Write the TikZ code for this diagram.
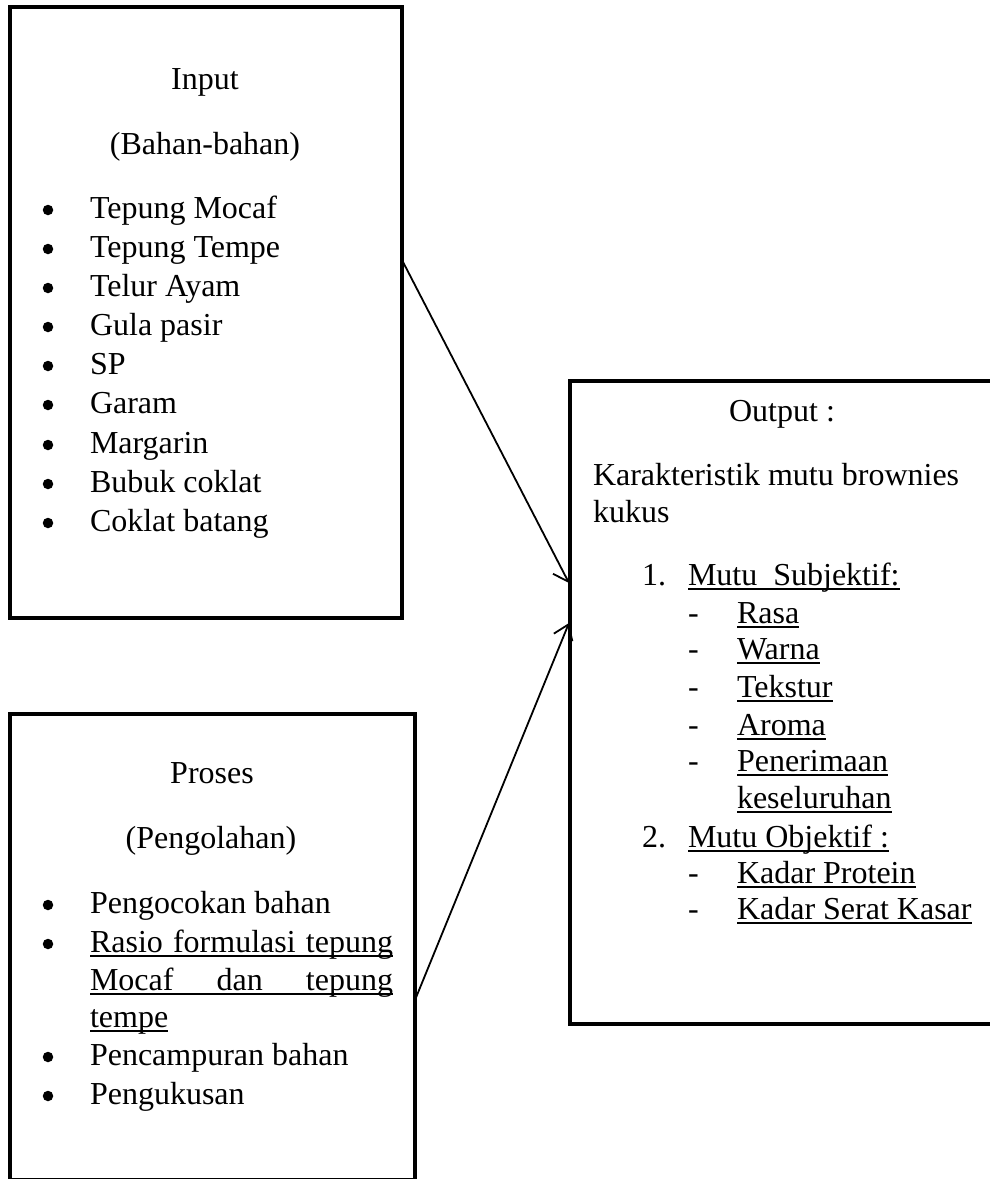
\documentclass[tikz,border=0pt]{standalone}
\usepackage{fontspec}
\setmainfont{Liberation Serif}
\usetikzlibrary{arrows.meta}
\newsavebox\ulbox
\newcommand\myul[1]{\sbox\ulbox{#1}\rlap{\rule[-5.3pt]{\wd\ulbox}{2pt}}\usebox\ulbox}
\begin{document}
\begin{tikzpicture}[x=1pt,y=-1pt,
  box/.style={draw,line width=4pt,inner sep=0pt,outer sep=0pt,rectangle},
  txt/.style={inner sep=0pt,outer sep=0pt,font=\fontsize{32}{39}\selectfont},
  lt/.style={txt,anchor=base west},
  ct/.style={txt,anchor=base},
  bul/.style={circle,fill,inner sep=0pt,minimum size=10.5pt},
  conn/.style={line width=1.8pt,-{Straight Barb[length=14pt,width=20pt,line width=1.8pt]}}
]
\useasboundingbox (0,0) rectangle (990,1179);
\clip (0,0) rectangle (990,1179);

% boxes
\node[box,minimum width=392pt,minimum height=611pt] (inp) at (206,312.5) {};
\node[box,minimum width=405pt,minimum height=466pt] (pro) at (212.5,947) {};
\node[box,minimum width=430pt,minimum height=643pt] (out) at (785,702.5) {};

% Input text
\node[ct] (t1) at (205,89) {Input};
\node[ct] (t2) at (205,154) {(Bahan-bahan)};
\foreach \y/\t [count=\i] in {218/Tepung Mocaf,257/Tepung Tempe,296/Telur Ayam,335/Gula pasir,374/SP,413/Garam,453/Margarin,492/Bubuk coklat,531/Coklat batang}{
  \node[bul] (ib\i) at (48,\y-8) {};
  \node[lt] (it\i) at (90,\y) {\t};
}

% Proses text
\node[ct] (p1) at (212,783) {Proses};
\node[ct] (p2) at (211,848) {(Pengolahan)};
\node[bul] (pb1) at (48,905) {};
\node[lt] (pt1) at (90,913) {Pengocokan bahan};
\node[bul] (pb2) at (48,944) {};
\node[lt] (pt2) at (90,952) {\myul{\makebox[303pt][s]{Rasio\hfill formulasi\hfill tepung}}};
\node[lt] (pt3) at (90,990) {\myul{\makebox[303pt][s]{Mocaf\hfill dan\hfill tepung}}};
\node[lt] (pt4) at (90,1027) {\myul{tempe}};
\node[bul] (pb3) at (48,1057) {};
\node[lt] (pt5) at (90,1065) {Pencampuran bahan};
\node[bul] (pb4) at (48,1096) {};
\node[lt] (pt6) at (90,1104) {Pengukusan};

% Output text
\node[ct] (o1) at (782,421) {Output :};
\node[lt] (o2) at (593,485) {Karakteristik mutu brownies};
\node[lt] (o3) at (593,522) {kukus};
\node[lt] (n1) at (642,585) {1.};
\node[lt] (m1) at (688,585) {\myul{Mutu\ \ Subjektif:}};
\foreach \y/\t [count=\i] in {623/Rasa,659/Warna,697/Tekstur,735/Aroma,771/Penerimaan}{
  \node[lt] (d\i) at (688,\y) {-};
  \node[lt] (s\i) at (737,\y) {\myul{\t}};
}
\node[lt] (s6) at (737,808) {\myul{keseluruhan}};
\node[lt] (n2) at (642,847) {2.};
\node[lt] (m2) at (688,847) {\myul{Mutu Objektif :}};
\node[lt] (d7) at (688,883) {-};
\node[lt] (s7) at (737,883) {\myul{Kadar Protein}};
\node[lt] (d8) at (688,919) {-};
\node[lt] (s8) at (737,919) {\myul{Kadar Serat Kasar}};

% connectors
\coordinate (a1s) at (402,260);
\coordinate (a1e) at (569,583);
\coordinate (a2s) at (415,1000);
\coordinate (a2e) at (569,623);
\draw[conn] (a1s) -- (a1e);
\draw[conn] (a2s) -- (a2e);
\end{tikzpicture}
\end{document}
